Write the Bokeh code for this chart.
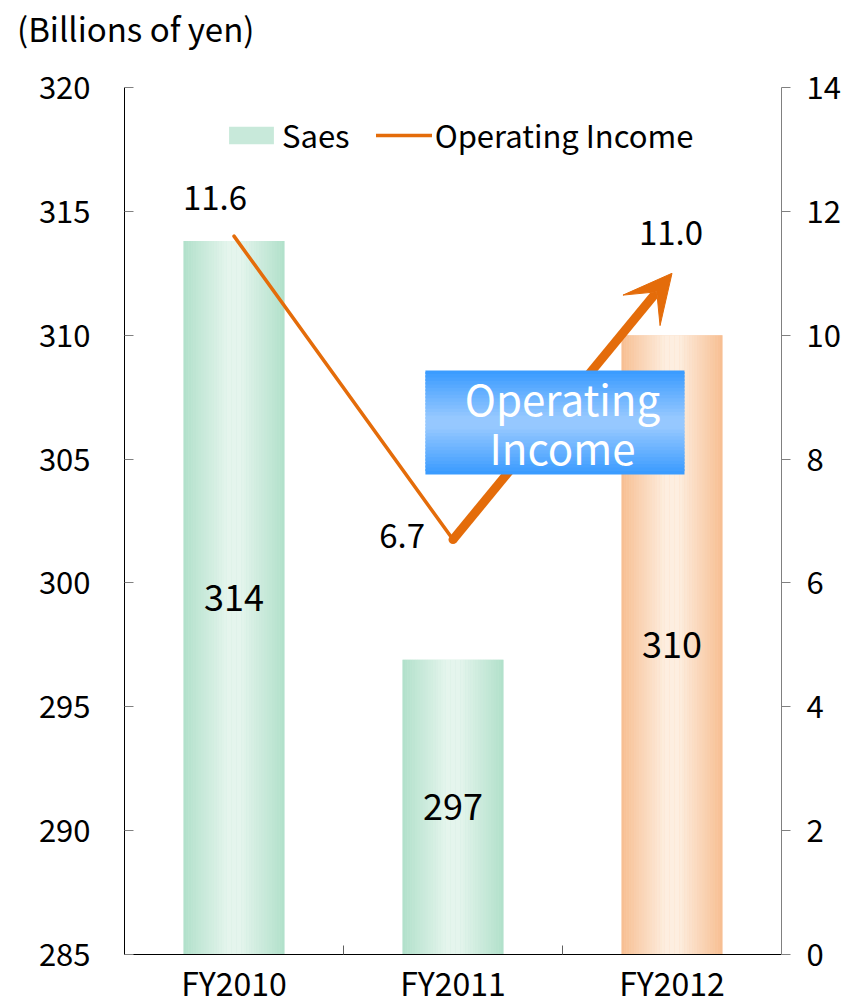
import numpy as np
from bokeh.plotting import figure
from bokeh.layouts import column
from bokeh.models import (Range1d, LinearAxis, FixedTicker, Arrow, VeeHead,
                          BoxAnnotation, Label, Legend, LegendItem, Div)
from bokeh.core.properties import value
from bokeh.embed import file_html
from bokeh.resources import INLINE

# ---------------- data ----------------
years = ["FY2010", "FY2011", "FY2012"]
sales = [313.8, 296.9, 310.0]
sales_labels = ["314", "297", "310"]
op_income = [11.6, 6.7, 11.0]
op_labels = ["11.6", "6.7", "11.0"]
left_ticks = [285, 290, 295, 300, 305, 310, 315, 320]
right_ticks = [0, 2, 4, 6, 8, 10, 12, 14]
unit_caption = "(Billions of yen)"

# ---------------- style ----------------
FONT = "Noto Sans CJK JP"
GREEN_EDGE = (176, 224, 202)
GREEN_MID = (229, 245, 237)
ORANGE_EDGE = (247, 190, 145)
ORANGE_MID = (253, 238, 224)
BLUE_EDGE = (56, 154, 255)
BLUE_MID = (150, 200, 255)
LINE = "#e46c0a"
Y0, Y1 = left_ticks[0], left_ticks[-1]
R0, R1 = right_ticks[0], right_ticks[-1]
FRAME_W, FRAME_H = 657, 867
CAPTION_H = 56


def mix(a, b, t):
    return "#%02x%02x%02x" % tuple(int(round(x + (y - x) * t)) for x, y in zip(a, b))


p = figure(frame_width=FRAME_W, frame_height=FRAME_H,
           x_range=Range1d(0, len(years)), y_range=Range1d(Y0, Y1),
           output_backend="svg", toolbar_location=None,
           min_border_left=124, min_border_right=62, min_border_top=87 - CAPTION_H,
           min_border_bottom=0)
p.extra_y_ranges = {"right": Range1d(R0, R1)}
p.xgrid.visible = False
p.ygrid.visible = False
p.outline_line_color = None
p.background_fill_color = "white"
p.border_fill_color = "white"

xc = [i + 0.5 for i in range(len(years))]

# ---------------- bars (horizontal gradient via strips) ----------------
BW = 0.46
N = 40
base_cols = [mix(GREEN_EDGE, GREEN_MID, 0.5), mix(GREEN_EDGE, GREEN_MID, 0.5), mix(ORANGE_EDGE, ORANGE_MID, 0.5)]
p.vbar(x=xc, top=sales, bottom=Y0, width=BW, fill_color=base_cols, line_color=None)
sx, st, sc = [], [], []
for i, v in enumerate(sales):
    edge, mid = (GREEN_EDGE, GREEN_MID) if i < 2 else (ORANGE_EDGE, ORANGE_MID)
    for k in range(N):
        u = (k + 0.5) / N
        t = min(1.0, (1 - abs(2 * u - 1)) * 1.15)
        sx.append(xc[i] - BW / 2 + u * BW)
        st.append(v)
        sc.append(mix(edge, mid, t))
p.vbar(x=sx, top=st, bottom=Y0, width=BW / N * 1.05, fill_color=sc, line_color=None)

# bar value labels
mids = [(v + Y0) / 2 for v in sales]
p.text(x=xc, y=mids, text=sales_labels, text_font=value(FONT), text_font_size="36px",
       text_align="center", text_baseline="middle", text_color="black")

# ---------------- operating income ----------------
line_r = p.line(x=xc[:2], y=op_income[:2], y_range_name="right", line_color=LINE,
                line_width=3.5, line_cap="round")
p.scatter(x=[xc[1]], y=[op_income[1]], y_range_name="right", size=9,
          fill_color=LINE, line_color=None)
arrow = Arrow(x_start=xc[1], y_start=op_income[1], x_end=xc[2], y_end=op_income[2],
              y_range_name="right", line_color=LINE, line_width=9, line_cap="butt",
              end=VeeHead(size=48, fill_color=LINE, line_color=LINE, line_width=1))
p.add_layout(arrow)

p.text(x=[xc[0], xc[2]], y=[op_income[0], op_income[2]], text=[op_labels[0], op_labels[2]],
       y_range_name="right", x_offset=[-19, -1], y_offset=[-26, -28],
       text_font=value(FONT), text_font_size="33px", text_align="center",
       text_baseline="bottom", text_color="black")
p.text(x=[xc[1]], y=[op_income[1]], text=[op_labels[1]], y_range_name="right",
       x_offset=-28, y_offset=-4, text_font=value(FONT), text_font_size="33px",
       text_align="right", text_baseline="middle", text_color="black")

# ---------------- "Operating Income" callout box ----------------
BX0, BX1, BY0, BY1 = 1.374, 2.557, 7.751, 9.43
NB = 30
for k in range(NB):
    u = (k + 0.5) / NB
    t = min(1.0, (1 - abs(2 * u - 1)) * 1.1)
    y_lo = BY0 + (BY1 - BY0) * k / NB
    y_hi = BY0 + (BY1 - BY0) * (k + 1.6) / NB
    b = BoxAnnotation(left=BX0, right=BX1, bottom=y_lo, top=min(y_hi, BY1), y_range_name="right",
                      fill_color=mix(BLUE_EDGE, BLUE_MID, t), fill_alpha=1.0, line_color=None,
                      level="overlay")
    p.add_layout(b)
for txt, yy in [("Operating", 9.0), ("Income", 8.2)]:
    p.add_layout(Label(x=2.0, y=yy, y_range_name="right", text=txt, text_color="white",
                       text_font=FONT, text_font_size="42px", text_align="center",
                       text_baseline="middle", level="overlay"))

# ---------------- axes ----------------
yl = p.yaxis[0]
yl.ticker = FixedTicker(ticks=left_ticks)
yl.axis_line_color = "black"
yl.major_tick_line_color = "#808080"
yl.major_tick_in = 9
yl.major_tick_out = 0
yl.minor_tick_line_color = None
yl.major_label_standoff = 34
yl.major_label_text_font = FONT
yl.major_label_text_font_size = "31px"
yl.major_label_text_color = "black"

yr = LinearAxis(y_range_name="right", ticker=FixedTicker(ticks=right_ticks))
yr.axis_line_color = "#808080"
yr.major_tick_line_color = "#808080"
yr.major_tick_in = 0
yr.major_tick_out = 9
yr.minor_tick_line_color = None
yr.major_label_standoff = 16
yr.major_label_text_font = FONT
yr.major_label_text_font_size = "31px"
yr.major_label_text_color = "black"
p.add_layout(yr, "right")

xa = p.xaxis[0]
xa.ticker = FixedTicker(ticks=xc, minor_ticks=[1, 2])
xa.major_label_overrides = {x: y for x, y in zip(xc, years)}
xa.axis_line_color = "black"
xa.major_tick_line_color = None
xa.major_tick_in = 0
xa.major_tick_out = 0
xa.minor_tick_line_color = "#606060"
xa.minor_tick_in = 9
xa.minor_tick_out = 0
xa.major_label_standoff = 4
xa.major_label_text_font = FONT
xa.major_label_text_font_size = "32px"
xa.major_label_text_color = "black"

# ---------------- legend ----------------
sales_leg = p.vbar(x=[xc[0]], top=[Y0], bottom=Y0, width=0.01,
                   fill_color=mix(GREEN_EDGE, GREEN_MID, 0.45), line_color=None)
legend = Legend(items=[LegendItem(label="Saes", renderers=[sales_leg]),
                       LegendItem(label="Operating Income", renderers=[line_r])],
                orientation="horizontal", location=(99, 797), padding=0, margin=0,
                spacing=26, glyph_width=56, glyph_height=22, label_standoff=3,
                border_line_color=None, background_fill_alpha=0,
                label_text_font=FONT, label_text_font_size="31px", label_text_color="black")
p.add_layout(legend)

# ---------------- unit caption above the chart ----------------
caption = Div(text=('<div style="font-family:\'%s\';font-size:33px;line-height:%dpx;'
                    'padding-left:17px;color:#000;white-space:nowrap">%s</div>')
              % (FONT, CAPTION_H, unit_caption),
              width=400, height=CAPTION_H, margin=0)

layout = column(caption, p, spacing=0)
open("out.html", "w").write(file_html(layout, INLINE))
